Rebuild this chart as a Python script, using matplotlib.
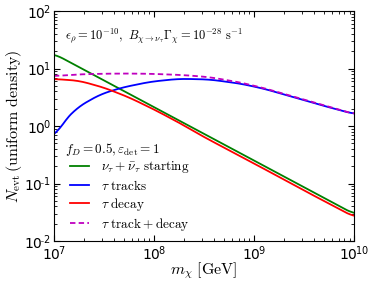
import numpy as np
import matplotlib
matplotlib.use("Agg")
import matplotlib.pyplot as plt
from matplotlib.ticker import FuncFormatter

plt.rcParams['mathtext.fontset'] = 'cm'
plt.rcParams['font.family'] = 'DejaVu Sans'

# log10(m_chi / GeV) and log10(N_evt)
logm_start = [7.0, 7.5, 8.0, 8.5, 9.0, 9.5, 10.0]
logn_start = [1.26, 0.795, 0.33, -0.135, -0.60, -1.065, -1.53]

logm_track = [7.0, 7.09, 7.23, 7.46, 7.68, 7.96, 8.23, 8.36, 8.56, 8.86, 9.1, 9.36, 9.68, 10.0]
logn_track = [-0.21, 0.06, 0.32, 0.55, 0.67, 0.77, 0.82, 0.82, 0.81, 0.74, 0.65, 0.52, 0.36, 0.21]

logm_decay = [7.0, 7.25, 7.5, 7.75, 8.0, 8.25, 8.5, 8.75, 9.0, 9.5, 10.0]
logn_decay = [0.82, 0.79, 0.67, 0.50, 0.29, 0.06, -0.19, -0.42, -0.65, -1.12, -1.58]

logm_total = [7.0, 7.25, 7.46, 7.7, 7.96, 8.2, 8.36, 8.56, 8.86, 9.1, 9.36, 9.68, 10.0]
logn_total = [0.87, 0.90, 0.91, 0.915, 0.91, 0.895, 0.88, 0.85, 0.76, 0.66, 0.53, 0.37, 0.21]


def smooth(xs, ys):
    # dense points for a smooth curve through the read-off values
    xf = np.linspace(xs[0], xs[-1], 300)
    yf = np.interp(xf, xs, ys)
    k = 9
    pad = np.pad(yf, k, mode='edge')
    yf = np.convolve(pad, np.ones(2 * k + 1) / (2 * k + 1), mode='valid')
    return 10 ** xf, 10 ** yf


def pow10(v, pos):
    # tight superscript with a short hyphen, like the old style labels
    e = int(round(np.log10(v)))
    s = str(abs(e))
    if e < 0:
        s = r'\text{-}' + s
    return r'$\mathdefault{10^{\!' + s + '}}$'


fig = plt.figure(figsize=(3.74, 2.85), dpi=100)
ax = fig.add_axes([0.144, 0.154, 0.803, 0.807])

ax.plot(*smooth(logm_start, logn_start), color='g', lw=1.3,
        label=r'$\nu_\tau+\bar{\nu}_\tau\ \mathrm{starting}$')
ax.plot(*smooth(logm_track, logn_track), color='b', lw=1.3,
        label=r'$\tau\ \mathrm{tracks}$')
ax.plot(*smooth(logm_decay, logn_decay), color='r', lw=1.3,
        label=r'$\tau\ \mathrm{decay}$')
ax.plot(*smooth(logm_total, logn_total), color='m', lw=1.3,
        dashes=(3, 1.8), label=r'$\tau\ \mathrm{track}+\mathrm{decay}$')

ax.set_xscale('log')
ax.set_yscale('log')
ax.set_xlim(1e7, 1e10)
ax.set_ylim(1e-2, 1e2)
ax.xaxis.set_major_formatter(FuncFormatter(pow10))
ax.yaxis.set_major_formatter(FuncFormatter(pow10))

ax.tick_params(which='both', direction='in', top=True, right=True, labelsize=10)
ax.tick_params(which='major', length=4.5, pad=2.5)
ax.tick_params(which='minor', length=2.2)

ax.set_xlabel(r'$m_\chi\ [\mathrm{GeV}]$', fontsize=11.5)
ax.set_ylabel(r'$N_{\mathrm{evt}}\,(\mathrm{uniform\ density})$', fontsize=11.5)
ax.xaxis.set_label_coords(0.5, -0.085)
ax.yaxis.set_label_coords(-0.10, 0.5)

ax.text(0.037, 0.89, r'$\epsilon_\rho = 10^{-10},\ B_{\chi\to\nu_\tau}\Gamma_\chi = 10^{-28}\ \mathrm{s}^{-1}$',
        transform=ax.transAxes, fontsize=9, va='center')

# legend title drawn as its own text so the handles sit slightly indented
ax.text(0.037, 0.40, r'$f_D = 0.5, \varepsilon_{\mathrm{det}} = 1$',
        transform=ax.transAxes, fontsize=9.5, va='center')
ax.legend(loc='lower left', bbox_to_anchor=(0.053, 0.037), frameon=False,
          fontsize=9.5, handlelength=1.45, handletextpad=0.95,
          labelspacing=0.23, borderpad=0, borderaxespad=0)

fig.savefig('out.png', dpi=100)
